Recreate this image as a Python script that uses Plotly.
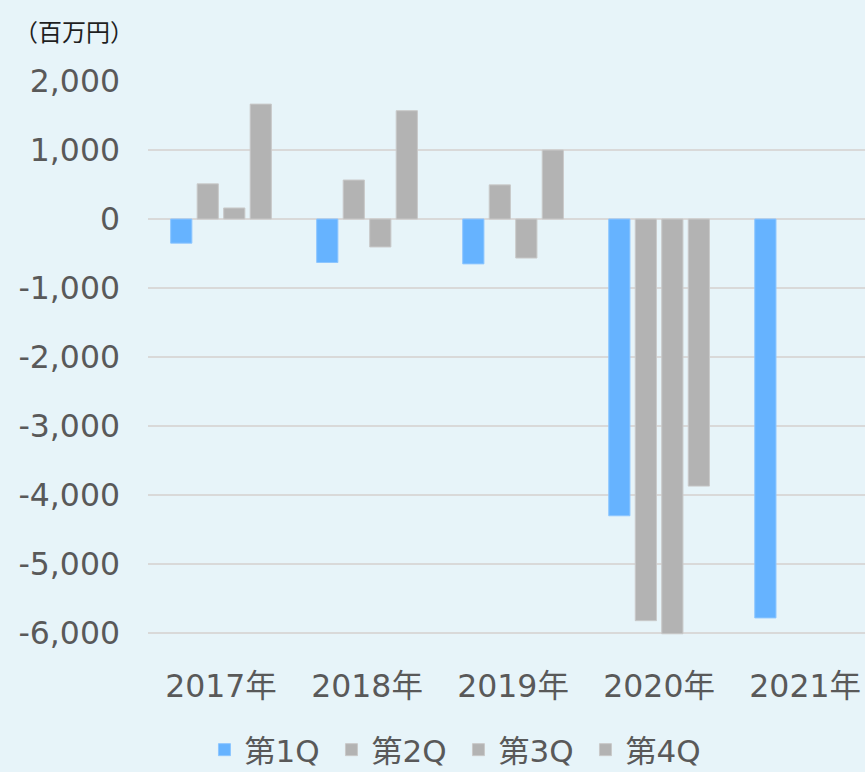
import plotly.graph_objects as go

years = ["2017年", "2018年", "2019年", "2020年", "2021年"]
series_names = ["第1Q", "第2Q", "第3Q", "第4Q"]
q1 = [-350, -630, -650, -4300, -5780]
q2 = [510, 565, 495, -5820, None]
q3 = [160, -405, -565, -6010, None]
q4 = [1665, 1570, 1000, -3870, None]
series_values = [q1, q2, q3, q4]
colors = ["#66B3FF", "#B3B3B3", "#B3B3B3", "#B3B3B3"]
line_colors = ["#8DC6FF", "#C9C9C9", "#C9C9C9", "#C9C9C9"]
y_ticks = [2000, 1000, 0, -1000, -2000, -3000, -4000, -5000, -6000]
y_tick_labels = ["2,000", "1,000", "0", "-1,000", "-2,000", "-3,000", "-4,000", "-5,000", "-6,000"]

FONT = "DejaVu Sans, Noto Sans CJK JP"
BG = "#E7F4F9"
FS = 31.5

fig = go.Figure()
for name, vals, c, lc in zip(series_names, series_values, colors, line_colors):
    fig.add_trace(go.Bar(
        x=years, y=vals, name=name,
        marker=dict(color=c, line=dict(color=lc, width=1)),
    ))

fig.update_layout(
    width=865, height=772,
    paper_bgcolor=BG, plot_bgcolor=BG,
    barmode="group", bargap=0.274, bargroupgap=0.2,
    margin=dict(l=148, r=0, t=81, b=131.5, autoexpand=False),
    font=dict(family=FONT, color="#595959", size=FS),
    showlegend=True,
    legend=dict(
        orientation="h", x=0.433, xanchor="center",
        yref="container", y=(772 - 750) / 772, yanchor="middle",
        font=dict(family=FONT, size=31, color="#595959"),
        itemwidth=30, tracegroupgap=0, entrywidth=82, entrywidthmode="pixels",
    ),
    xaxis=dict(
        type="category", range=[-0.5, 4.41], showgrid=False, showline=False,
        ticks="", ticklabelstandoff=24, automargin=False,
        tickfont=dict(family=FONT, size=FS, color="#595959"),
    ),
    yaxis=dict(
        range=[-6100, 2000], tickvals=y_ticks, ticktext=y_tick_labels,
        showgrid=True, gridcolor="#D9D9D9", gridwidth=2,
        zeroline=True, zerolinecolor="#D9D9D9", zerolinewidth=2,
        showline=False, ticks="", ticklabelstandoff=27, automargin=False,
        tickfont=dict(family=FONT, size=FS, color="#595959"),
    ),
    annotations=[dict(
        text="（百万円）", xref="paper", yref="paper",
        x=-148/717, y=1 + (81 - 30) / 559.5, xanchor="left", yanchor="middle",
        showarrow=False, font=dict(family="Noto Sans CJK JP", size=24, color="#1F1F1F"),
        xshift=12,
    )],
)

fig.write_html(
    "out.html",
    config={"displayModeBar": False},
    post_script="document.body.style.margin='0';document.body.style.padding='0';",
)
